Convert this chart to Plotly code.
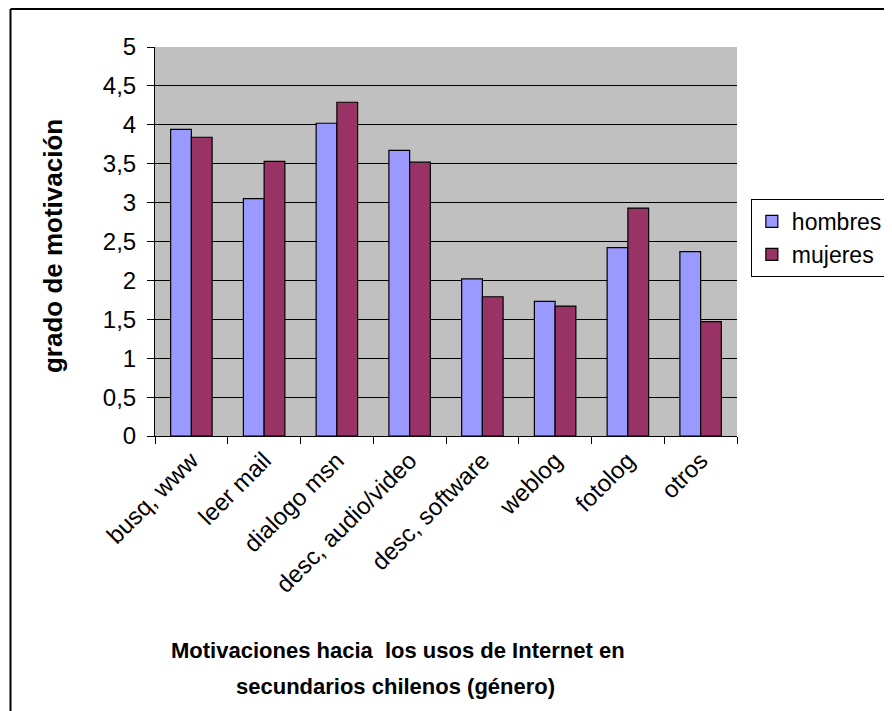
import plotly.graph_objects as go

categories = ["busq, www", "leer mail", "dialogo msn", "desc, audio/video",
              "desc, software", "weblog", "fotolog", "otros"]
hombres = [3.94, 3.05, 4.02, 3.67, 2.02, 1.73, 2.42, 2.37]
mujeres = [3.84, 3.53, 4.29, 3.52, 1.79, 1.67, 2.93, 1.47]
y_tickvals = [0, 0.5, 1, 1.5, 2, 2.5, 3, 3.5, 4, 4.5, 5]
y_ticktext = ["0", "0,5", "1", "1,5", "2", "2,5", "3", "3,5", "4", "4,5", "5"]

FONT = "Liberation Sans, Arial, sans-serif"

fig = go.Figure()
fig.add_trace(go.Bar(x=categories, y=hombres, name="hombres",
                     marker=dict(color="#9999FF", line=dict(color="black", width=1.2))))
fig.add_trace(go.Bar(x=categories, y=mujeres, name="mujeres",
                     marker=dict(color="#993366", line=dict(color="black", width=1.2))))

# plot area in page pixels: x 155..743, y 47..436 (page has an 8px body offset)
def px(x):
    return (x - 155) / 588

def py(y):
    return (436 - y) / 389

fig.update_layout(
    width=892, height=711,
    margin=dict(l=147, r=157, t=39, b=283),
    paper_bgcolor="white", plot_bgcolor="#C0C0C0",
    barmode="group", bargap=0.43, bargroupgap=0,
    font=dict(family=FONT, size=24, color="black"),
    showlegend=True,
    legend=dict(x=px(757), y=py(199), xanchor="left", yanchor="top",
                bordercolor="black", borderwidth=1, bgcolor="white",
                font=dict(size=23), tracegroupgap=0, itemwidth=30),
    xaxis=dict(type="category", tickson="boundaries", ticks="outside", ticklen=7,
               tickcolor="black", showline=True, linecolor="black", linewidth=1,
               tickangle=-45, showgrid=False, tickfont=dict(size=24)),
    yaxis=dict(range=[0, 5], tickvals=y_tickvals, ticktext=y_ticktext,
               ticks="outside", ticklen=7, tickcolor="black",
               showline=True, linecolor="black", linewidth=1,
               showgrid=True, gridcolor="black", gridwidth=1,
               zeroline=False, tickfont=dict(size=24), ticklabelstandoff=6),
)

fig.add_annotation(text="<b>grado de motivación</b>", xref="paper", yref="paper",
                   x=px(52), y=py(246), xanchor="center", yanchor="middle",
                   textangle=-90, showarrow=False, font=dict(size=26))
fig.add_annotation(text="<b>Motivaciones hacia\u00a0 los usos de Internet en</b>",
                   xref="paper", yref="paper", x=px(400), y=py(650),
                   xanchor="center", yanchor="middle",
                   showarrow=False, font=dict(size=22))
fig.add_annotation(text="<b>secundarios chilenos (género)</b>",
                   xref="paper", yref="paper", x=px(398), y=py(686),
                   xanchor="center", yanchor="middle",
                   showarrow=False, font=dict(size=22))

# outer chart frame (left and top edges visible)
fig.add_shape(type="line", xref="paper", yref="paper",
              x0=px(9), x1=px(900), y0=py(9), y1=py(9),
              line=dict(color="black", width=2))
fig.add_shape(type="line", xref="paper", yref="paper",
              x0=px(9), x1=px(9), y0=py(9), y1=py(720),
              line=dict(color="black", width=2))

fig.write_html("out.html")
